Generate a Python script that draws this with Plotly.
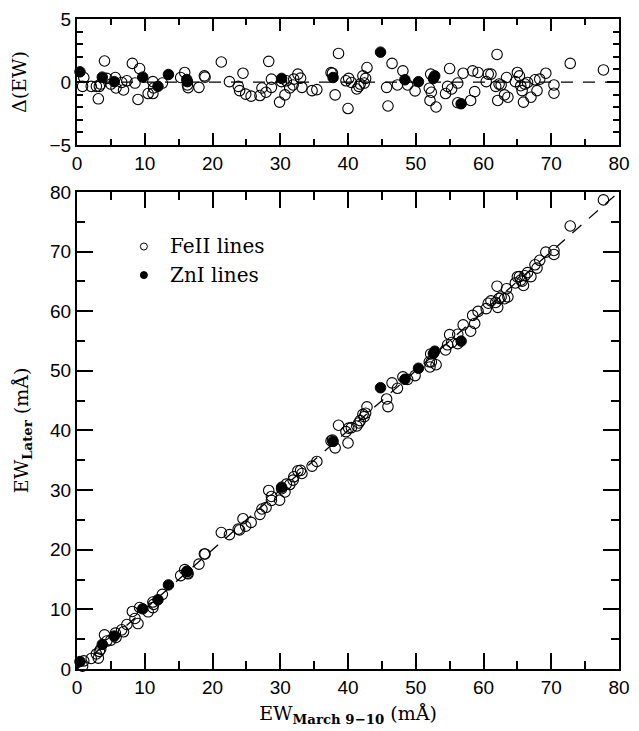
import plotly.graph_objects as go

# ---------------- data ----------------
# FeII lines: EW on March 9-10 (mÅ) and difference Later - March (mÅ)
feii_march = [0.82, 1.0, 2.1, 2.86, 3.15, 3.3, 3.5, 4.06, 4.4, 5.0, 5.66, 5.76, 6.6, 6.87,
              7.36, 8.17, 8.56, 9.0, 9.24, 10.5, 11.2, 11.2, 11.3, 12.6, 15.3, 15.9, 16.3,
              16.4, 18.0, 18.8, 18.9, 21.3, 22.5, 23.8, 24.0, 24.5, 24.9, 25.7, 27.0, 27.3,
              27.9, 28.3, 28.7, 28.7, 29.9, 30.2, 30.7, 30.9, 31.4, 31.9, 32.0, 32.6, 33.0,
              33.2, 34.7, 35.4, 37.7, 37.5, 38.1, 38.6, 39.7, 40.0, 40.1, 40.5, 41.3, 41.6,
              41.8, 42.2, 42.4, 42.6, 42.8, 45.7, 45.9, 46.5, 47.3, 48.1, 48.8, 49.9, 52.0,
              52.1, 52.2, 52.3, 53.0, 54.4, 54.7, 55.0, 55.3, 56.2, 56.2, 57.0, 58.1, 58.4,
              58.7, 59.2, 60.4, 60.7, 61.1, 61.8, 62.0, 62.1, 62.3, 62.6, 63.1, 63.4, 63.6,
              64.7, 65.0, 65.3, 65.5, 65.7, 65.9, 66.1, 66.5, 67.0, 67.6, 67.9, 68.3, 69.2,
              70.4, 70.4, 72.8, 77.7]
feii_delta = [-0.34, 0.36, -0.34, -0.34, -1.33, -0.34, -0.16, 1.67, 0.29, -0.16, 0.36, -0.47,
              -0.03, -0.63, 0.1, 1.48, -0.08, -1.38, 1.07, -0.91, -0.91, 0.03, -0.47, -0.08,
              0.36, 0.76, -0.23, -0.44, -0.42, 0.49, 0.39, 1.59, 0.03, -0.34, -0.68, 0.7,
              -0.96, -1.12, -1.07, -0.47, -0.81, 1.64, 0.23, -0.42, -1.59, 0.03, -1.02, 0.1,
              -0.47, -0.23, 0.23, 0.63, 0.31, -0.42, -0.68, -0.6, 0.7, 0.75, -1.02, 2.27,
              0.1, -2.1, 0.29, -0.03, -0.55, -0.34, -0.16, 0.49, -0.08, 0.29, 1.15, -0.42,
              -1.9, 1.48, -0.23, 0.89, -0.23, -0.7, -0.49, -1.46, 0.63, -0.81, -1.98, -0.91,
              -0.34, 1.07, -0.55, -0.08, -1.64, 0.7, -1.46, 0.89, -0.76, 0.76, 0.03, 0.63,
              0.63, -0.34, 2.19, -1.46, -0.16, -0.23, -1.02, 0.36, -1.2, 0.03, 0.76, 0.49,
              -0.29, -0.68, -1.59, -0.16, -0.03, -1.2, 0.18, -0.68, 0.23, 0.7, -0.23, -0.89,
              1.48, 0.96]

# ZnI lines
zni_march = [0.44, 3.73, 5.5, 9.7, 11.95, 13.5, 16.3, 16.2, 30.2, 37.8, 44.8, 48.4, 50.4,
             52.6, 52.8, 56.7]
zni_delta = [0.81, 0.39, 0.03, 0.39, -0.34, 0.6, 0.03, 0.2, 0.29, 0.36, 2.37, 0.18, 0.03,
             0.29, 0.49, -1.72]

# Later EW = March EW + difference
feii_later = [m + d for m, d in zip(feii_march, feii_delta)]
zni_later = [m + d for m, d in zip(zni_march, zni_delta)]

x_ticks = [0, 10, 20, 30, 40, 50, 60, 70, 80]
y_ticks_main = [0, 10, 20, 30, 40, 50, 60, 70, 80]
y_ticks_top = [-5, 0, 5]

# ---------------- figure ----------------
MS = 10.5
open_marker = dict(symbol="circle-open", size=MS, color="black", line=dict(width=1.1, color="black"))
fill_marker = dict(symbol="circle", size=MS, color="black", line=dict(width=1, color="black"))

fig = go.Figure()
# top residual panel
fig.add_trace(go.Scatter(x=feii_march, y=feii_delta, mode="markers", marker=open_marker,
                         xaxis="x", yaxis="y", showlegend=False, cliponaxis=False, name="FeII lines"))
fig.add_trace(go.Scatter(x=zni_march, y=zni_delta, mode="markers", marker=fill_marker,
                         xaxis="x", yaxis="y", showlegend=False, cliponaxis=False, name="ZnI lines"))
# main panel
fig.add_trace(go.Scatter(x=feii_march, y=feii_later, mode="markers", marker=open_marker,
                         xaxis="x2", yaxis="y2", showlegend=False, cliponaxis=False, name="FeII lines"))
fig.add_trace(go.Scatter(x=zni_march, y=zni_later, mode="markers", marker=fill_marker,
                         xaxis="x2", yaxis="y2", showlegend=False, cliponaxis=False, name="ZnI lines"))

DASH = "12px,10px"
# reference lines
fig.add_shape(type="line", xref="x", yref="y", x0=x_ticks[0], x1=x_ticks[-1], y0=0, y1=0,
              line=dict(color="black", width=1.3, dash=DASH), layer="below")
fig.add_shape(type="line", xref="x2", yref="y2", x0=x_ticks[0], x1=x_ticks[-1],
              y0=y_ticks_main[0], y1=y_ticks_main[-1],
              line=dict(color="black", width=1.3, dash=DASH), layer="below")

tickfont = dict(family="Liberation Sans, Arial, sans-serif", size=19, color="black")
serif = "DejaVu Serif, Liberation Serif, serif"

common = dict(showline=True, linewidth=2, linecolor="black", mirror="ticks", ticks="inside",
              showgrid=False, zeroline=False, tickfont=tickfont, tickcolor="black", tickwidth=1.6)

fig.update_layout(
    width=639, height=731,
    margin=dict(l=77, r=11, t=9, b=62),
    paper_bgcolor="white", plot_bgcolor="white",
    xaxis=dict(domain=[0, 1], anchor="y", range=[0, 80], tickvals=x_ticks, ticklen=12,
               minor=dict(dtick=5, ticklen=6, ticks="inside", tickcolor="black", tickwidth=1.6),
               **common),
    yaxis=dict(domain=[0.806, 1], anchor="x", range=[-5, 5], tickvals=y_ticks_top, ticklen=12,
               minor=dict(dtick=1, ticklen=6, ticks="inside", tickcolor="black", tickwidth=1.6),
               title=dict(text="Δ(EW)", font=dict(family=serif, size=19, color="black"), standoff=18),
               **common),
    xaxis2=dict(domain=[0, 1], anchor="y2", range=[0, 80], tickvals=x_ticks, ticklen=16,
                minor=dict(dtick=5, ticklen=8, ticks="inside", tickcolor="black", tickwidth=1.6),
                title=dict(text="EW<sub><b>March 9−10</b></sub> (mÅ)",
                           font=dict(family=serif, size=19, color="black"), standoff=10),
                **common),
    yaxis2=dict(domain=[0, 0.734], anchor="x2", range=[0, 80], tickvals=y_ticks_main, ticklen=16,
                minor=dict(dtick=5, ticklen=8, ticks="inside", tickcolor="black", tickwidth=1.6),
                title=dict(text="EW<sub><b>Later</b></sub> (mÅ)",
                           font=dict(family=serif, size=19, color="black"), standoff=16),
                **common),
)

# legend drawn inside the main panel
leg_items = [("FeII lines", False, 0.650), ("ZnI lines", True, 0.606)]
for label, filled, yp in leg_items:
    fig.add_shape(type="circle", xref="paper", yref="paper", xsizemode="pixel", ysizemode="pixel",
                  xanchor=0.1234, yanchor=yp, x0=-3.5, x1=3.5, y0=-3.5, y1=3.5,
                  line=dict(color="black", width=1), fillcolor="black" if filled else "white")
    fig.add_annotation(text=label, xref="paper", yref="paper", x=0.1688, y=yp,
                       xanchor="left", yanchor="middle", showarrow=False,
                       font=dict(family=serif, size=20, color="black"))

fig.write_html("out.html")
